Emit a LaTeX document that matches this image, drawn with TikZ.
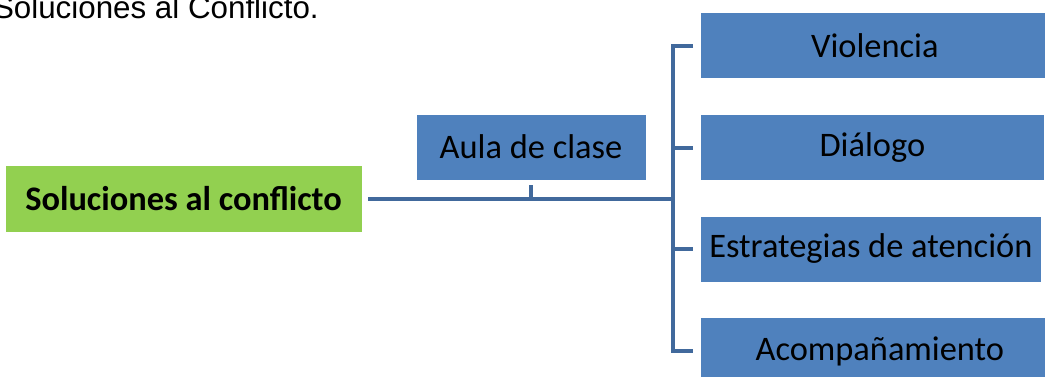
\documentclass[tikz,border=0pt]{standalone}
\usepackage{fontspec}
\setmainfont{Carlito}
\newfontfamily\arialfont{Liberation Sans}
\definecolor{boxblue}{HTML}{4F81BD}
\definecolor{boxgreen}{HTML}{92D050}
\definecolor{linkblue}{HTML}{41699C}

\begin{document}
\begin{tikzpicture}[x=0.75pt, y=-0.75pt,
		leaf/.style={fill=boxblue, draw=white, line width=0.5pt, minimum height=49.5pt, inner sep=0pt, font=\fontsize{25.8}{30}\selectfont},
		link/.style={draw=linkblue, line width=3pt}]
		\useasboundingbox (0,0) rectangle (1045,376);
		\node[anchor=base east, inner sep=0pt, font=\arialfont\fontsize{23.5}{28}\selectfont] at (319,18) (title){Soluciones al Conflicto.};
		\node[leaf, fill=boxgreen, minimum width=267.75pt, minimum height=50.25pt, font=\bfseries\fontsize{25.8}{30}\selectfont] at (183.5,198.5) (sol){Soluciones al conflicto};
		\node[leaf, minimum width=172.5pt] at (531,147) (aula){Aula de clase};
		\node[leaf, anchor=west, minimum width=261.75pt] at (700,45.5) (viol){Violencia};
		\node[leaf, anchor=west, minimum width=258pt] at (700,147.5) (dial){Diálogo};
		\node[leaf, anchor=west, minimum width=255.75pt] at (700,249) (estr){Estrategias de atención};
		\node[leaf, anchor=west, minimum width=269.25pt, minimum height=51pt] at (700,351) (acomp){Acompañamiento};
		\coordinate (fork) at (673,199);
		\draw[link] ([xshift=4.5pt]sol.east) -- (sol.east -| fork);
		\draw[link] ([yshift=-3.75pt]aula.south) -- (aula.south |- fork);
		\draw[link] ([xshift=-5.25pt]viol.west) -| (fork |- acomp.west) -- ([xshift=-5.25pt]acomp.west);
		\draw[link] (fork |- dial.west) -- ([xshift=-5.25pt]dial.west);
		\draw[link] (fork |- estr.west) -- ([xshift=-5.25pt]estr.west);
	\end{tikzpicture}
\end{document}
